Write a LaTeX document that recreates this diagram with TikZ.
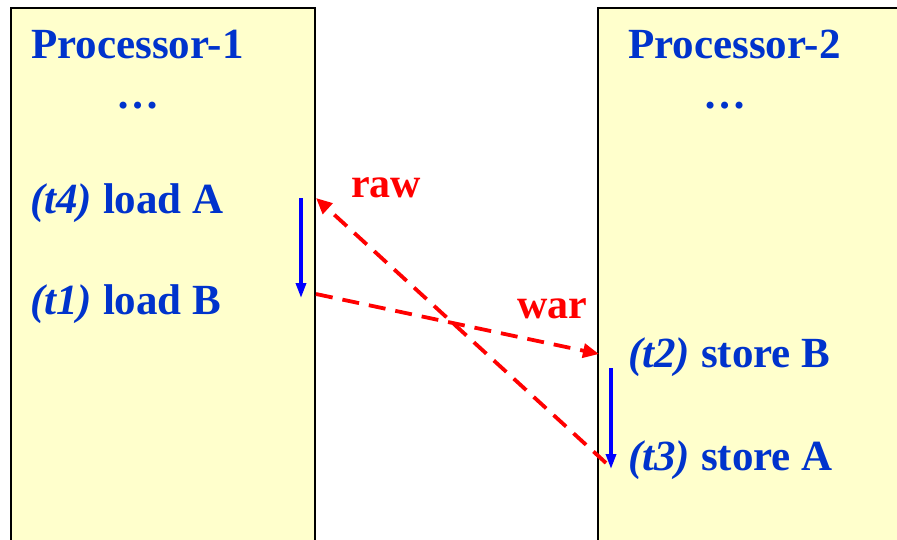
\documentclass[tikz,border=0pt]{standalone}
\usepackage{fontspec}
\setmainfont{Liberation Serif}
\usetikzlibrary{arrows.meta}
\definecolor{boxfill}{HTML}{FFFFCC}
\definecolor{txtblue}{HTML}{0033CC}
\definecolor{arrblue}{HTML}{0000FF}
\definecolor{arrred}{HTML}{FF0000}
\begin{document}
\begin{tikzpicture}[x=1pt,y=-1pt,
  procbox/.style={draw=black,line width=2.2pt,fill=boxfill},
  lbl/.style={anchor=base west,inner sep=0pt,text=txtblue,font=\fontsize{43}{50}\selectfont\bfseries},
  dots/.style={anchor=base,inner sep=0pt,text=txtblue,font=\fontsize{43}{50}\selectfont\bfseries},
  deplbl/.style={anchor=base west,inner sep=0pt,text=arrred,font=\fontsize{42}{50}\selectfont\bfseries},
  order/.style={draw=arrblue,line width=3.4pt,-{Triangle[length=15pt,width=10pt]}},
  dep/.style={draw=arrred,line width=3.8pt,dash pattern=on 17pt off 10pt,-{Triangle[length=16pt,width=14pt]}}]
\useasboundingbox (0,0) rectangle (897,539);
\path[procbox] (11,8) rectangle (315,560);
\path[procbox] (598,8) rectangle (910,560);
\node[lbl] (p1) at (31,58) {Processor-1};
\node[dots] (d1) at (138,108) {…};
\node[lbl] (t4) at (30,213) {\textit{(t4)} load A};
\node[lbl] (t1) at (30,314) {\textit{(t1)} load B};
\node[lbl] (p2) at (628,58) {Processor-2};
\node[dots] (d2) at (725,108) {…};
\node[lbl] (t2) at (628,367) {\textit{(t2)} store B};
\node[lbl] (t3) at (628,470) {\textit{(t3)} store A};
\node[deplbl] (raw) at (351,197) {raw};
\node[deplbl] (war) at (517,318) {war};
\coordinate (a1) at (301,198);
\coordinate (a2) at (301,298);
\coordinate (b1) at (611,368);
\coordinate (b2) at (611,469);
\coordinate (r1) at (606,463);
\coordinate (r2) at (316,198);
\coordinate (w1) at (316,294);
\coordinate (w2) at (599,354);
\draw[order] (a1) -- (a2);
\draw[order] (b1) -- (b2);
\draw[dep] (r1) -- (r2);
\draw[dep] (w1) -- (w2);
\end{tikzpicture}
\end{document}
